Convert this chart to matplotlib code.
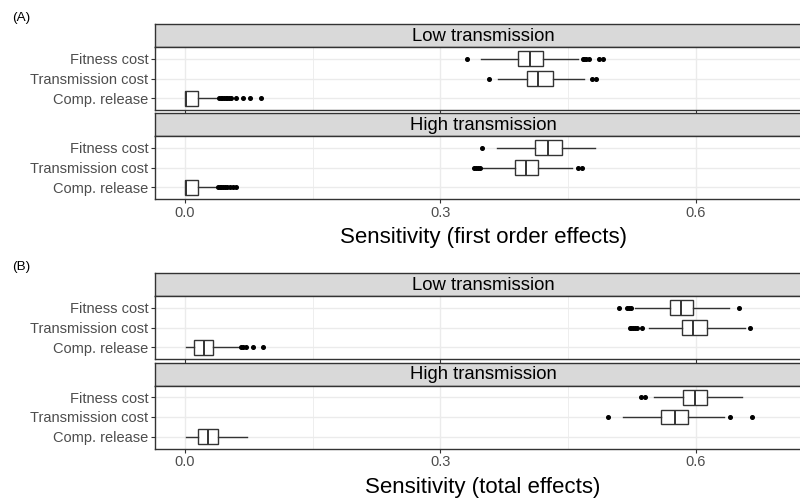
"""
Sensitivity of the model to its three parameters, split by
transmission level: first order effects (A) and total effects (B).
"""

import matplotlib.pyplot as plt

params = ["Fitness cost", "Transmission cost", "Comp. release"]
facets = ["Low transmission", "High transmission"]
xticks = [0.0, 0.3, 0.6]
xminor = [0.15, 0.45]

# per parameter: whisker low, Q1, median, Q3, whisker high
first_low_stats = [[0.348, 0.391, 0.405, 0.421, 0.462],
                   [0.368, 0.402, 0.415, 0.432, 0.469],
                   [0.000, 0.000, 0.001, 0.016, 0.038]]
first_low_fliers = [[0.331, 0.467, 0.469, 0.471, 0.474, 0.486, 0.491],
                    [0.357, 0.478, 0.483],
                    [0.040, 0.042, 0.044, 0.046, 0.048, 0.050, 0.052,
                     0.054, 0.060, 0.068, 0.077, 0.090]]

first_high_stats = [[0.366, 0.411, 0.426, 0.443, 0.482],
                    [0.349, 0.388, 0.401, 0.415, 0.454],
                    [0.000, 0.000, 0.001, 0.016, 0.038]]
first_high_fliers = [[0.349],
                     [0.340, 0.342, 0.344, 0.347, 0.461, 0.466],
                     [0.039, 0.041, 0.043, 0.045, 0.047, 0.050, 0.053,
                      0.056, 0.060]]

total_low_stats = [[0.529, 0.569, 0.582, 0.597, 0.639],
                   [0.545, 0.583, 0.596, 0.613, 0.657],
                   [0.001, 0.011, 0.022, 0.033, 0.063]]
total_low_fliers = [[0.510, 0.519, 0.521, 0.524, 0.650],
                    [0.522, 0.524, 0.526, 0.528, 0.531, 0.537, 0.663],
                    [0.066, 0.068, 0.072, 0.080, 0.092]]

total_high_stats = [[0.551, 0.585, 0.599, 0.613, 0.654],
                    [0.514, 0.559, 0.575, 0.591, 0.633],
                    [0.001, 0.016, 0.027, 0.039, 0.073]]
total_high_fliers = [[0.535, 0.540],
                     [0.497, 0.640, 0.666],
                     []]

plt.rcParams['font.family'] = ['Liberation Sans', 'DejaVu Sans']

W, H = 800, 500
DARK = '#333333'
GRID = '#EBEBEB'


def rect(x0, y0, x1, y1):
    # pixel box (from top-left) -> figure fraction
    return [x0 / W, 1 - y1 / H, (x1 - x0) / W, (y1 - y0) / H]


def facet(fig, top, label, stats, fliers, bottom_axis):
    # strip
    sax = fig.add_axes(rect(155, top, 811, top + 23))
    sax.set_facecolor('#D9D9D9')
    sax.set_xticks([])
    sax.set_yticks([])
    for s in sax.spines.values():
        s.set_color(DARK)
        s.set_linewidth(1.0)
    sax.text(0.5, 0.47, label, ha='center', va='center', fontsize=13.3,
             transform=sax.transAxes)

    ax = fig.add_axes(rect(155, top + 23, 811, top + 86))
    bstats = []
    for s, f in zip(stats, fliers):
        bstats.append(dict(whislo=s[0], q1=s[1], med=s[2], q3=s[3],
                           whishi=s[4], fliers=f))
    ax.bxp(bstats, positions=[3, 2, 1], widths=0.75,
           orientation='horizontal', showcaps=False, patch_artist=True,
           boxprops=dict(facecolor='white', edgecolor=DARK, linewidth=1.0),
           medianprops=dict(color=DARK, linewidth=1.4),
           whiskerprops=dict(color=DARK, linewidth=1.0),
           flierprops=dict(marker='o', markerfacecolor='black',
                           markeredgecolor='black', markersize=2.6))
    ax.set_xlim(-0.035, 0.735)
    ax.set_ylim(0.4, 3.6)
    ax.set_yticks([3, 2, 1])
    ax.set_yticklabels(params, fontsize=10.5, color='#4D4D4D')
    ax.set_xticks(xticks)
    ax.set_xticks(xminor, minor=True)
    if bottom_axis:
        ax.set_xticklabels(['0.0', '0.3', '0.6'], fontsize=10.5,
                           color='#4D4D4D')
    else:
        ax.set_xticklabels([])
        ax.tick_params(axis='x', length=0)
    ax.tick_params(which='minor', length=0)
    ax.tick_params(length=2.75, width=0.8, color=DARK, pad=2)
    ax.grid(True, which='major', color=GRID, linewidth=1.0)
    ax.grid(True, which='minor', axis='x', color=GRID, linewidth=0.6)
    ax.set_axisbelow(True)
    for s in ax.spines.values():
        s.set_color(DARK)
        s.set_linewidth(1.0)
    return ax


fig = plt.figure(figsize=(8, 5), dpi=100)

facet(fig, 24, facets[0], first_low_stats, first_low_fliers, False)
facet(fig, 113, facets[1], first_high_stats, first_high_fliers, True)
facet(fig, 273, facets[0], total_low_stats, total_low_fliers, False)
facet(fig, 362.5, facets[1], total_high_stats, total_high_fliers, True)

fig.text(483 / W, 1 - 238 / H, 'Sensitivity (first order effects)',
         ha='center', va='center', fontsize=16)
fig.text(483 / W, 1 - 487 / H, 'Sensitivity (total effects)',
         ha='center', va='center', fontsize=16)
fig.text(12 / W, 1 - 18 / H, '(A)', ha='left', va='center', fontsize=9.7)
fig.text(12 / W, 1 - 267 / H, '(B)', ha='left', va='center', fontsize=9.7)

fig.savefig('out.png', dpi=100)
